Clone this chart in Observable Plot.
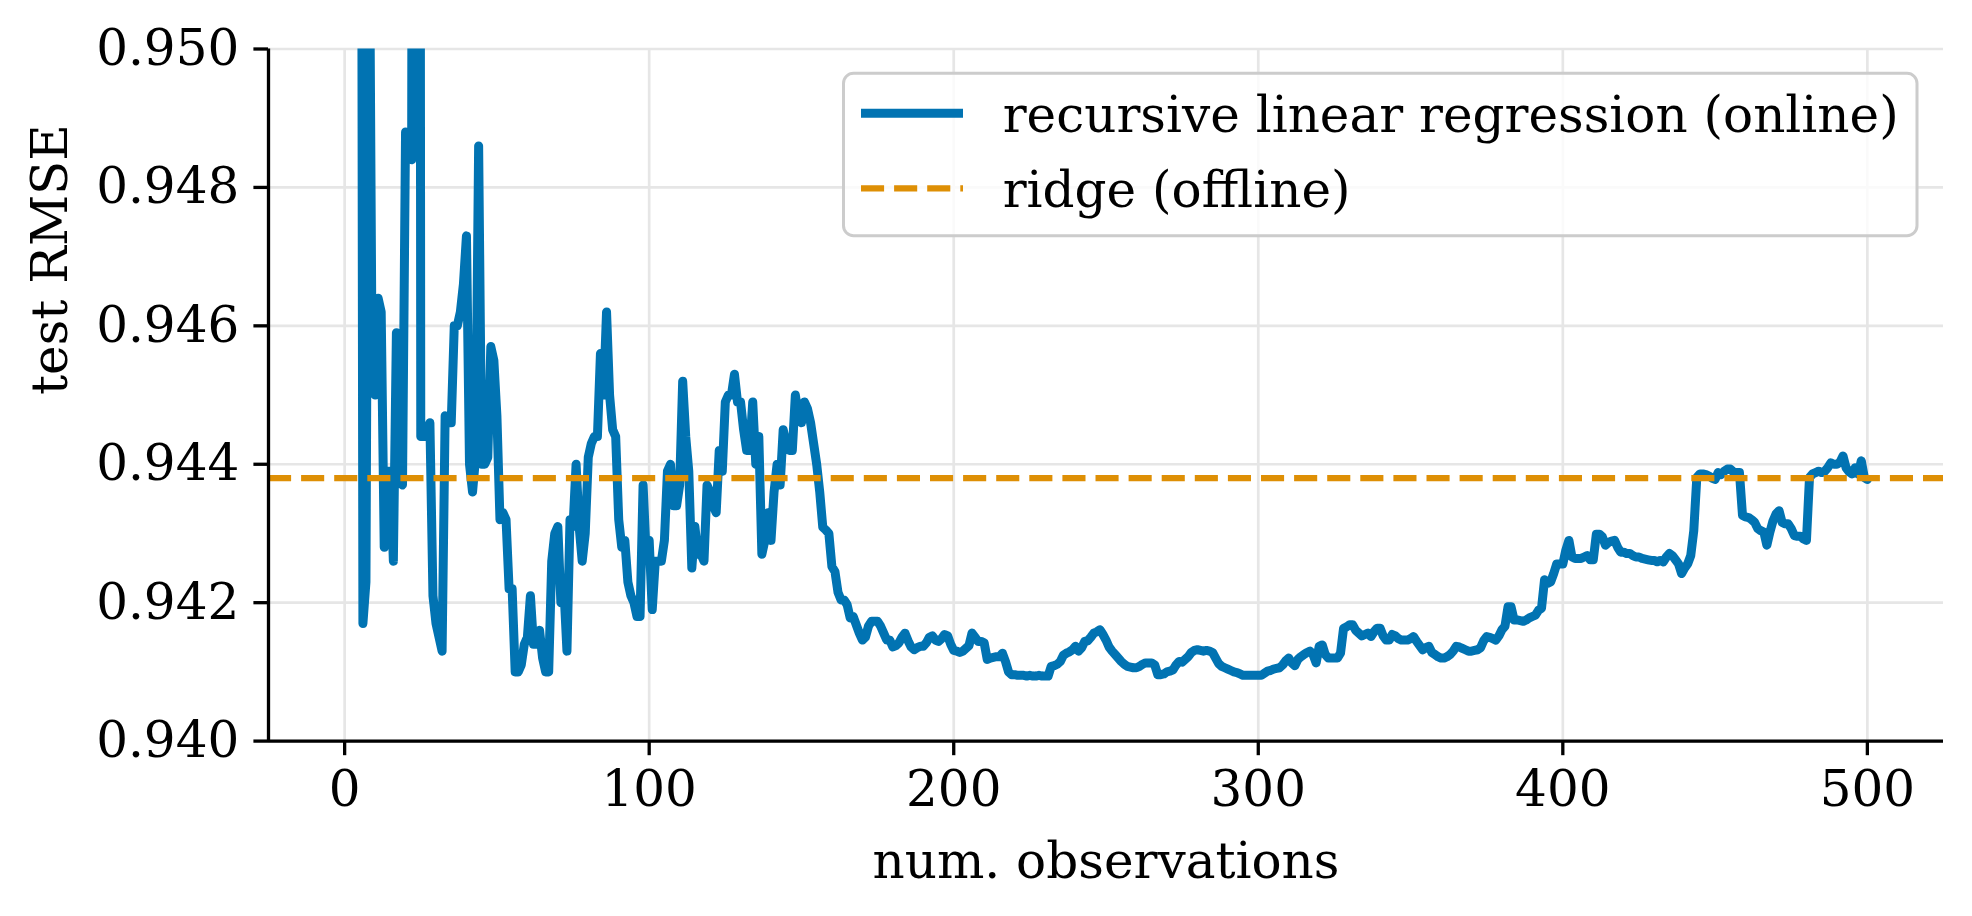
<!DOCTYPE html>
<html>
<head>
<meta charset="utf-8">
<script src="https://cdn.jsdelivr.net/npm/d3@7"></script>
<script src="https://cdn.jsdelivr.net/npm/@observablehq/plot@0.6"></script>
<style>
html, body { margin: 0; padding: 0; background: #fff; }
#chart { width: 1972px; height: 916px; }
</style>
</head>
<body>
<div id="chart"></div>
<script>
// ---------------- data ----------------
const firstObservation = 2;
// test RMSE of the online model after each observation (n = 2 ... 500)
const onlineRmse = [
  0.990, 0.985, 0.975, 0.968, 0.9417, 0.9423, 0.9530, 0.9455,                 // 2-9
  0.9450, 0.9464, 0.9462, 0.9428, 0.9439, 0.9439, 0.9426, 0.9459, 0.9438, 0.9437, // 10-19
  0.9488, 0.9486, 0.9484, 0.9750, 0.9900, 0.9444, 0.9444, 0.9445, 0.9446, 0.9421, // 20-29
  0.9417, 0.9415, 0.9413, 0.9447, 0.9446, 0.9446, 0.9460, 0.9460, 0.9462, 0.9466, // 30-39
  0.9473, 0.9440, 0.9436, 0.9441, 0.9486, 0.9440, 0.9440, 0.9441, 0.9457, 0.9455, // 40-49
  0.9447, 0.9432, 0.9433, 0.9432, 0.9422, 0.9422, 0.9410, 0.9410, 0.9411, 0.9414, // 50-59
  0.9415, 0.9421, 0.9414, 0.9414, 0.9416, 0.9412, 0.9410, 0.9410, 0.9426, 0.9430, // 60-69
  0.9431, 0.9420, 0.9422, 0.9413, 0.9432, 0.9431, 0.9440, 0.9431, 0.9426, 0.9430, // 70-79
  0.9441, 0.9443, 0.9444, 0.9444, 0.9456, 0.9450, 0.9462, 0.9450, 0.9445, 0.9444, // 80-89
  0.9432, 0.9428, 0.9429, 0.9423, 0.9421, 0.9420, 0.9418, 0.9418, 0.9437, 0.9427, // 90-99
  0.9429, 0.9419, 0.9426, 0.9426, 0.9426, 0.9429, 0.9439, 0.9440, 0.9434, 0.9434, // 100-109
  0.9437, 0.9452, 0.9444, 0.9439, 0.9425, 0.9431, 0.9427, 0.9427, 0.9426, 0.9437, // 110-119
  0.9436, 0.9434, 0.9433, 0.9442, 0.9439, 0.9449, 0.9450, 0.9450, 0.9453, 0.9449, // 120-129
  0.9449, 0.9445, 0.9442, 0.9442, 0.9449, 0.9440, 0.9444, 0.9427, 0.9429, 0.9433, // 130-139
  0.9429, 0.9436, 0.9440, 0.9437, 0.9445, 0.9443, 0.9442, 0.9442, 0.9450, 0.9447, // 140-149
  0.9446, 0.9449, 0.9448, 0.9446, 0.9443, 0.9440, 0.9436, 0.94309, 0.94305, 0.94300, // 150-159
  0.94252, 0.94245, 0.94215, 0.94204, 0.94204, 0.94197, 0.94178, 0.94180, 0.94168, 0.94156, // 160-169
  0.94146, 0.94150, 0.94166, 0.94173, 0.94173, 0.94173, 0.94166, 0.94156, 0.94146, 0.94146, // 170-179
  0.94136, 0.94138, 0.94142, 0.94150, 0.94156, 0.94145, 0.94136, 0.94132, 0.94135, 0.94137, // 180-189
  0.94137, 0.94142, 0.94150, 0.94152, 0.94146, 0.94144, 0.94148, 0.94154, 0.94152, 0.94140, // 190-199
  0.94131, 0.94130, 0.94128, 0.94130, 0.94134, 0.94138, 0.94156, 0.94150, 0.94144, 0.94144, // 200-209
  0.94142, 0.94118, 0.94120, 0.94121, 0.94122, 0.94122, 0.94127, 0.94115, 0.94100, 0.94096, // 210-219
  0.94096, 0.94095, 0.94095, 0.94095, 0.94094, 0.94095, 0.94094, 0.94094, 0.94095, 0.94094, // 220-229
  0.94094, 0.94094, 0.94108, 0.94109, 0.94111, 0.94115, 0.94124, 0.94127, 0.94129, 0.94132, // 230-239
  0.94137, 0.94130, 0.94135, 0.94144, 0.94145, 0.94150, 0.94156, 0.94158, 0.94161, 0.94154, // 240-249
  0.94146, 0.94136, 0.94130, 0.94125, 0.94120, 0.94115, 0.94111, 0.94108, 0.94107, 0.94106, // 250-259
  0.94106, 0.94108, 0.94111, 0.94113, 0.94113, 0.94113, 0.94110, 0.94096, 0.94096, 0.94097, // 260-269
  0.94100, 0.94101, 0.94103, 0.94110, 0.94115, 0.94114, 0.94118, 0.94122, 0.94128, 0.94131, // 270-279
  0.94132, 0.94131, 0.94130, 0.94131, 0.94130, 0.94128, 0.94120, 0.94112, 0.94108, 0.94106, // 280-289
  0.94104, 0.94102, 0.94100, 0.94099, 0.94097, 0.94095, 0.94095, 0.94095, 0.94095, 0.94095, // 290-299
  0.94095, 0.94095, 0.94098, 0.94101, 0.94102, 0.94104, 0.94105, 0.94106, 0.94110, 0.94116, // 300-309
  0.94120, 0.94113, 0.94109, 0.94118, 0.94122, 0.94125, 0.94128, 0.94130, 0.94125, 0.94113, // 310-319
  0.94137, 0.94139, 0.94125, 0.94120, 0.94120, 0.94120, 0.94120, 0.94127, 0.94163, 0.94165, // 320-329
  0.94168, 0.94168, 0.94160, 0.94156, 0.94152, 0.94154, 0.94156, 0.94151, 0.94158, 0.94163, // 330-339
  0.94163, 0.94152, 0.94146, 0.94146, 0.94154, 0.94152, 0.94148, 0.94146, 0.94146, 0.94146, // 340-349
  0.94148, 0.94151, 0.94144, 0.94138, 0.94132, 0.94135, 0.94137, 0.94128, 0.94125, 0.94122, // 350-359
  0.94120, 0.94120, 0.94122, 0.94125, 0.94130, 0.94137, 0.94136, 0.94134, 0.94132, 0.94130, // 360-369
  0.94130, 0.94131, 0.94132, 0.94135, 0.94145, 0.94151, 0.94150, 0.94148, 0.94146, 0.94152, // 370-379
  0.94161, 0.94166, 0.94194, 0.94194, 0.94175, 0.94175, 0.94174, 0.94173, 0.94175, 0.94178, // 380-389
  0.94180, 0.94182, 0.94189, 0.94192, 0.94233, 0.94228, 0.94230, 0.94242, 0.94256, 0.94256, // 390-399
  0.94256, 0.94276, 0.94290, 0.94266, 0.94264, 0.94264, 0.94264, 0.94266, 0.94268, 0.94262, // 400-409
  0.94262, 0.94299, 0.94299, 0.94295, 0.94283, 0.94287, 0.94289, 0.94290, 0.94280, 0.94273, // 410-419
  0.94273, 0.94271, 0.94271, 0.94268, 0.94266, 0.94266, 0.94264, 0.94263, 0.94262, 0.94261, // 420-429
  0.94261, 0.94259, 0.94261, 0.94259, 0.94266, 0.94271, 0.94268, 0.94262, 0.94256, 0.94242, // 430-439
  0.94250, 0.94256, 0.94268, 0.94304, 0.94381, 0.94386, 0.94386, 0.94385, 0.94383, 0.94380, // 440-449
  0.94378, 0.94388, 0.94385, 0.94390, 0.94393, 0.94393, 0.94389, 0.94388, 0.94388, 0.94326, // 450-459
  0.94324, 0.94323, 0.94320, 0.94316, 0.94307, 0.94304, 0.94302, 0.94283, 0.94302, 0.94318, // 460-469
  0.94328, 0.94333, 0.94316, 0.94314, 0.94314, 0.94307, 0.94297, 0.94296, 0.94296, 0.94292, // 470-479
  0.94290, 0.94381, 0.94386, 0.94388, 0.94390, 0.94388, 0.94390, 0.94395, 0.94402, 0.94400, // 480-489
  0.94400, 0.94403, 0.94412, 0.94395, 0.94389, 0.94386, 0.94395, 0.94386, 0.94405, 0.94381, // 490-499
  0.94378                                                                         // 500
];
// offline ridge baseline RMSE
const ridgeRmse = 0.9438;

const xTicks = [0, 100, 200, 300, 400, 500];
const yTicks = [0.940, 0.942, 0.944, 0.946, 0.948, 0.950];
const seriesNames = ["recursive linear regression (online)", "ridge (offline)"];
const seriesColors = ["#0173b2", "#de8f05"];
const xLabel = "num. observations";
const yLabel = "test RMSE";

// ---------------- chart ----------------
const data = onlineRmse.map((v, i) => ({ n: firstObservation + i, rmse: v }));

const W = 1972, H = 916;
const mL = 268, mR = 29, mT = 48.5, mB = 175.4;
const FONT = "DejaVu Serif";
const FS = 50;
const gridStyle = { stroke: "#e6e6e6", strokeOpacity: 1, strokeWidth: 2.7 };

const chart = Plot.plot({
  width: W, height: H,
  marginLeft: mL, marginRight: mR, marginTop: mT, marginBottom: mB,
  style: { fontFamily: FONT, fontSize: FS + "px", color: "#000", background: "#fff", overflow: "visible" },
  x: { domain: [-25, 525] },
  y: { domain: [0.940, 0.950] },
  marks: [
    Plot.gridX(xTicks, gridStyle),
    Plot.gridY(yTicks, gridStyle),
    Plot.lineY(data, { x: "n", y: "rmse", stroke: seriesColors[0], strokeWidth: 9, clip: true }),
    Plot.ruleY([ridgeRmse], { stroke: seriesColors[1], strokeWidth: 6.25, strokeDasharray: "23.1,10" }),
    Plot.ruleX([-25], { stroke: "#000", strokeWidth: 3.3 }),
    Plot.ruleY([0.940], { stroke: "#000", strokeWidth: 3.3 }),
    Plot.axisX(xTicks, { tickSize: 14.6, tickPadding: 14.6, strokeWidth: 3.3, fontSize: FS, label: null, tickFormat: d => String(d) }),
    Plot.axisY(yTicks, { tickSize: 14.6, tickPadding: 14.6, strokeWidth: 3.3, fontSize: FS, label: null, tickFormat: d3.format(".3f") }),
    Plot.text([xLabel], { frameAnchor: "bottom", lineAnchor: "bottom", dy: 137, fontSize: FS, fill: "#000" }),
    Plot.text([yLabel], { frameAnchor: "left", rotate: -90, dx: -218, lineAnchor: "middle", fontSize: FS, fill: "#000" })
  ]
});

document.getElementById("chart").appendChild(chart);

// ---------------- legend (inside the axes, upper right) ----------------
const svg = d3.select(chart);
const lg = svg.append("g")
  .attr("font-family", FONT).attr("font-size", FS).attr("text-anchor", "start");
lg.append("rect")
  .attr("x", 843.5).attr("y", 73.3).attr("width", 1073.5).attr("height", 162.4)
  .attr("rx", 10).attr("ry", 10)
  .attr("fill", "#fff").attr("fill-opacity", 0.8)
  .attr("stroke", "#cccccc").attr("stroke-width", 3);
const rows = [
  { name: seriesNames[0], color: seriesColors[0], width: 9, dash: null, y: 113.3, base: 131.7 },
  { name: seriesNames[1], color: seriesColors[1], width: 6.25, dash: "23.1,10", y: 188.3, base: 206.7 }
];
rows.forEach(r => {
  const ln = lg.append("line")
    .attr("x1", 861).attr("x2", 963).attr("y1", r.y).attr("y2", r.y)
    .attr("stroke", r.color).attr("stroke-width", r.width);
  if (r.dash) ln.attr("stroke-dasharray", r.dash);
  lg.append("text").attr("x", 1002.7).attr("y", r.base)
    .attr("text-anchor", "start").attr("fill", "#000").text(r.name);
});
</script>
</body>
</html>
